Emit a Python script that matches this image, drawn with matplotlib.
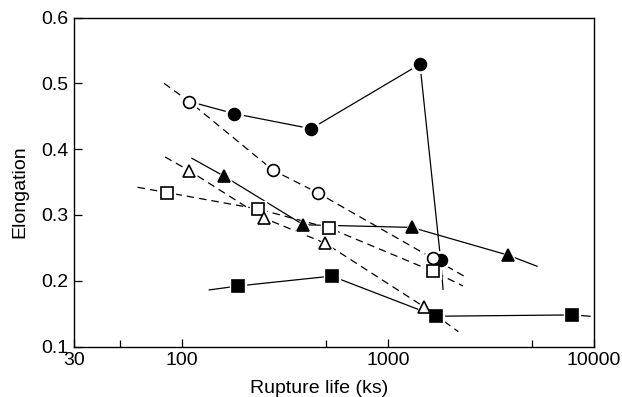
import matplotlib
matplotlib.use("Agg")
import matplotlib.pyplot as plt
from matplotlib.ticker import FixedLocator, NullFormatter

plt.rcParams['font.family'] = ['Liberation Sans', 'DejaVu Sans']

# each series: line through x/y (first/last entries are line ends without a marker)
fc_x = [110, 179, 424, 1431, 1804, 1852]
fc_y = [0.472, 0.454, 0.431, 0.529, 0.231, 0.187]
fc_mark = [1, 2, 3, 4]

oc_x = [82, 109, 277, 460, 1650, 2341]
oc_y = [0.500, 0.472, 0.368, 0.333, 0.234, 0.207]
oc_mark = [1, 2, 3, 4]

os_x = [61, 84.5, 234, 520, 1661, 2315]
os_y = [0.342, 0.334, 0.309, 0.280, 0.214, 0.192]
os_mark = [1, 2, 3, 4]

ot_x = [83, 109, 251, 496, 1503, 2197]
ot_y = [0.388, 0.367, 0.295, 0.257, 0.160, 0.1225]
ot_mark = [1, 2, 3, 4]

ft_x = [112, 160, 389, 1305, 3816, 5293]
ft_y = [0.386, 0.359, 0.285, 0.281, 0.239, 0.222]
ft_mark = [1, 2, 3, 4]

fs_x = [136, 188, 534, 1712, 7852, 9567]
fs_y = [0.186, 0.192, 0.207, 0.146, 0.148, 0.146]
fs_mark = [1, 2, 3, 4]

xticks = [30, 100, 1000, 10000]
xminor = [50, 500, 5000]
yticks = [0.1, 0.2, 0.3, 0.4, 0.5, 0.6]

fig = plt.figure(figsize=(6.22, 3.97), dpi=100)
ax = fig.add_axes([74 / 622, 1 - 346.5 / 397, 520 / 622, 329 / 397])

dash = (0, (6, 4))
series = [
    (fc_x, fc_y, fc_mark, '-', 'o', 'black', 8.5),
    (oc_x, oc_y, oc_mark, dash, 'o', 'white', 8.5),
    (os_x, os_y, os_mark, dash, 's', 'white', 8),
    (ot_x, ot_y, ot_mark, dash, '^', 'white', 9),
    (ft_x, ft_y, ft_mark, '-', '^', 'black', 9),
    (fs_x, fs_y, fs_mark, '-', 's', 'black', 8),
]

for xs, ys, idx, ls, m, face, ms in series:
    ax.plot(xs, ys, color='black', lw=0.9, linestyle=ls, zorder=2)
# white halo so lines stop short of the markers
for xs, ys, idx, ls, m, face, ms in series:
    ax.plot([xs[i] for i in idx], [ys[i] for i in idx], linestyle='none',
            marker=m, markersize=ms + 4, markerfacecolor='white',
            markeredgecolor='white', zorder=3)
for xs, ys, idx, ls, m, face, ms in series:
    ax.plot([xs[i] for i in idx], [ys[i] for i in idx], linestyle='none',
            marker=m, markersize=ms, markerfacecolor=face,
            markeredgecolor='black', markeredgewidth=1.2, zorder=4)

ax.set_xscale('log')
ax.set_xlim(30, 10000)
ax.set_ylim(0.1, 0.6)
ax.xaxis.set_major_locator(FixedLocator(xticks))
ax.xaxis.set_minor_locator(FixedLocator(xminor))
ax.xaxis.set_minor_formatter(NullFormatter())
ax.set_xticklabels([str(t) for t in xticks])
ax.set_yticks(yticks)
ax.set_yticklabels(['%.1f' % t for t in yticks])

ax.tick_params(which='both', direction='in', labelsize=14, width=0.9, pad=4)
ax.tick_params(which='major', length=6)
ax.tick_params(which='minor', length=5)
for sp in ax.spines.values():
    sp.set_linewidth(1.0)

ax.set_xlabel('Rupture life (ks)', fontsize=14)
ax.xaxis.set_label_coords(0.471, -0.103)
ax.set_ylabel('Elongation', fontsize=14, va='center')
ax.yaxis.set_label_coords(-0.104, 0.471)

fig.savefig('out.png', dpi=100)
